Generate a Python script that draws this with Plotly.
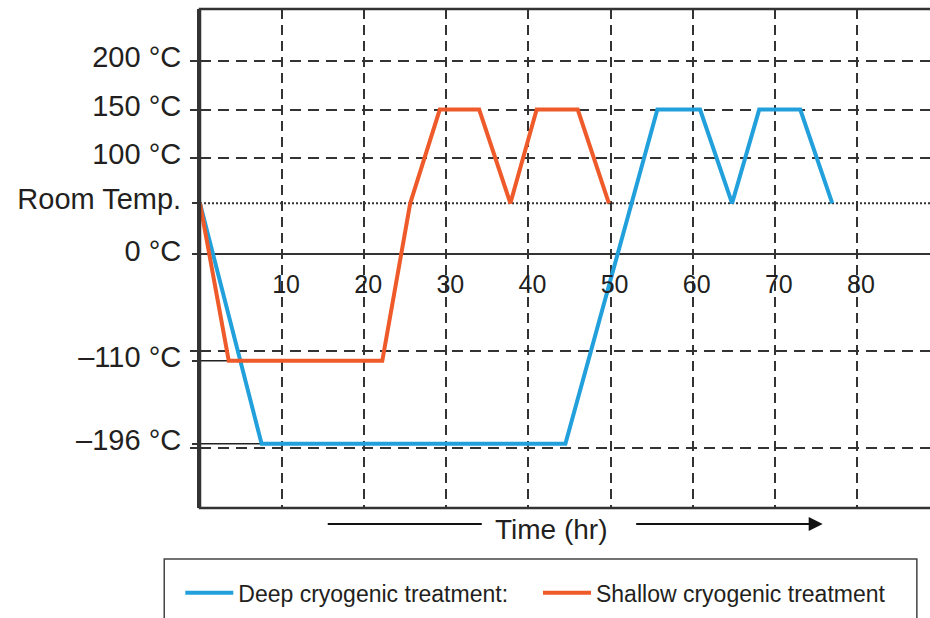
import plotly.graph_objects as go

# ---------------- data ----------------
ROOM_TEMP = 53  # drawn position of "Room Temp." on the schematic axis (°C)

deep_time = [0, 7.5, 44.5, 55.7, 60.9, 64.8, 68.1, 73.1, 77.0]
deep_temp = [ROOM_TEMP, -196, -196, 150, 150, ROOM_TEMP, 150, 150, ROOM_TEMP]

shallow_time = [0, 3.5, 22.2, 25.6, 29.2, 34.0, 37.8, 41.0, 46.0, 49.8]
shallow_temp = [ROOM_TEMP, -110, -110, ROOM_TEMP, 150, 150, ROOM_TEMP, 150, 150, ROOM_TEMP]

x_ticks = [10, 20, 30, 40, 50, 60, 70, 80]
x_tick_text = ["10", "20", "30", "40", "50", "60", "70", "80"]

y_label_vals = [200, 150, 100, ROOM_TEMP, 0, -110, -196]
y_label_text = ["200 °C", "150 °C", "100 °C", "Room Temp.", "0 °C", "–110 °C", "–196 °C"]

y_grid_vals = [200, 150, 100, -100, -200]

X_RANGE = [0, 88.9]
Y_RANGE = [-262.4, 254.1]

FONT = "Liberation Sans, Arial, sans-serif"
TXT = "#231f20"
GRID = "#333333"
BLUE = "#22a0dc"
RED = "#ef5a2a"

fig = go.Figure()

# thin guide lines from the axis to the start of each plateau (base subplot)
fig.add_trace(go.Scatter(x=[0, shallow_time[1]], y=[shallow_temp[1]] * 2, mode="lines",
                         line=dict(color="#222222", width=1.5), showlegend=False, hoverinfo="skip"))
fig.add_trace(go.Scatter(x=[0, deep_time[1]], y=[deep_temp[1]] * 2, mode="lines",
                         line=dict(color="#222222", width=1.5), showlegend=False, hoverinfo="skip"))

# temperature profiles (overlay subplot carrying the labelled axis)
fig.add_trace(go.Scatter(x=deep_time, y=deep_temp, mode="lines", name="Deep cryogenic treatment:",
                         line=dict(color=BLUE, width=4), yaxis="y2", legend="legend"))
fig.add_trace(go.Scatter(x=shallow_time, y=shallow_temp, mode="lines", name="Shallow cryogenic treatment",
                         line=dict(color=RED, width=4), yaxis="y2", legend="legend2"))

# room temperature dotted reference line
fig.add_shape(type="line", xref="x domain", yref="y", x0=0, x1=1, y0=ROOM_TEMP, y1=ROOM_TEMP,
              line=dict(color=GRID, width=2, dash="2px,2px"), layer="below")

pos0 = (0 - Y_RANGE[0]) / (Y_RANGE[1] - Y_RANGE[0])

legend_style = dict(
    orientation="h", xanchor="left", y=-0.17, yanchor="middle",
    font=dict(size=23, family=FONT, color=TXT),
    itemwidth=48, bgcolor="rgba(0,0,0,0)",
)

fig.update_layout(
    width=930, height=618,
    margin=dict(l=200, r=0, t=9, b=110),
    paper_bgcolor="white", plot_bgcolor="white",
    font=dict(family=FONT, color=TXT),
    xaxis=dict(
        range=X_RANGE, anchor="free", position=pos0,
        tickvals=x_ticks, ticktext=x_tick_text,
        tickfont=dict(size=25, family=FONT, color=TXT),
        ticks="outside", ticklen=4, tickwidth=2, tickcolor=GRID,
        ticklabelshift=4, ticklabelstandoff=4,
        showgrid=True, gridcolor=GRID, gridwidth=2, griddash="10px,6px",
        showline=False, zeroline=False,
    ),
    yaxis=dict(
        range=Y_RANGE, tickvals=y_grid_vals, showticklabels=False,
        ticks="outside", ticklen=7, tickwidth=2, tickcolor=GRID,
        showgrid=True, gridcolor=GRID, gridwidth=2, griddash="11px,7px",
        showline=True, linecolor=GRID, linewidth=2.5,
        zeroline=True, zerolinecolor=GRID, zerolinewidth=2,
    ),
    yaxis2=dict(
        range=Y_RANGE, overlaying="y", side="left", anchor="x",
        tickvals=y_label_vals, ticktext=y_label_text,
        tickfont=dict(size=29, family=FONT, color=TXT),
        ticks="outside", ticklen=7, tickwidth=2, tickcolor=GRID,
        ticklabelstandoff=5, ticklabelshift=-4,
        showgrid=False, zeroline=False, showline=False,
    ),
    legend=dict(x=-0.027, **legend_style),
    legend2=dict(x=0.463, **legend_style),
    showlegend=True,
)

# plot frame (left, top, bottom; right edge runs off the picture)
fig.add_shape(type="rect", xref="paper", yref="paper", x0=0, x1=1.02, y0=0, y1=1,
              line=dict(color=GRID, width=2.5), fillcolor="rgba(0,0,0,0)", layer="above")

# legend box
fig.add_shape(type="rect", xref="paper", yref="paper", x0=-0.049, x1=0.982, y0=-0.32, y1=-0.102,
              line=dict(color="#444444", width=1.5), fillcolor="rgba(0,0,0,0)")

# time label with arrows
fig.add_annotation(text="Time (hr)", xref="paper", yref="paper", x=0.482, y=-0.044,
                   showarrow=False, font=dict(size=28, family=FONT, color=TXT),
                   xanchor="center", yanchor="middle")
fig.add_shape(type="line", xref="paper", yref="paper", x0=0.175, x1=0.386, y0=-0.032, y1=-0.032,
              line=dict(color="#111111", width=2))
fig.add_annotation(text="", xref="paper", yref="paper", x=0.853, y=-0.032,
                   ax=-188, ay=0, showarrow=True, arrowhead=2, arrowsize=1.4,
                   arrowwidth=2, arrowcolor="#111111")

fig.write_html("out.html")
